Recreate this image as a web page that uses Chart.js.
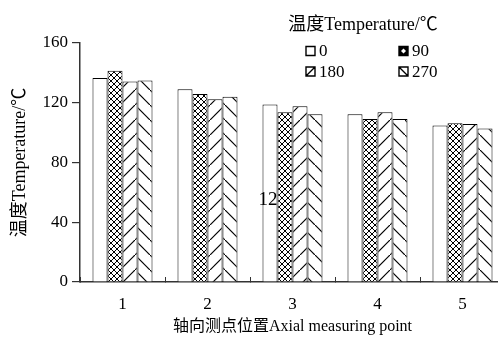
<!DOCTYPE html>
<html>
<head>
<meta charset="utf-8">
<script src="https://cdn.jsdelivr.net/npm/chart.js@4.4.1/dist/chart.umd.min.js"></script>
<style>
  html, body { margin: 0; padding: 0; background: #fff; overflow: hidden; }
  #chart { display: block; }
</style>
</head>
<body>
<canvas id="chart" width="505" height="338"></canvas>
<script>
// axial measuring points
const points = ['1', '2', '3', '4', '5'];
// temperature per series (degrees C)
const temp0 = [136.5, 129, 118.8, 112.3, 104.7];
const temp90 = [141.5, 125.8, 113.7, 109.2, 106.3];
const temp180 = [134.2, 122.4, 117.7, 113.7, 105.8];
const temp270 = [134.9, 124, 112.3, 109.2, 102.7];
const seriesNames = ['0', '90', '180', '270'];
const yTicks = [0, 40, 80, 120, 160];

const serif = "'Liberation Serif', 'Noto Sans CJK SC', serif";

// hatch patterns for the bars
function makePattern(kind) {
    const c = document.createElement('canvas');
    const s = kind === 'cross' ? 6 : 15;
    c.width = s;
    c.height = s;
    const g = c.getContext('2d');
    g.fillStyle = '#fff';
    g.fillRect(0, 0, s, s);
    g.strokeStyle = '#000';
    g.lineWidth = kind === 'cross' ? 1 : 1.2;
    g.beginPath();
    if (kind === 'cross' || kind === 'up') {
        g.moveTo(-1, s + 1); g.lineTo(s + 1, -1);
    }
    if (kind === 'cross' || kind === 'down') {
        g.moveTo(-1, -1); g.lineTo(s + 1, s + 1);
    }
    g.stroke();
    return g.createPattern(c, 'repeat');
}

const fills = ['#fff', makePattern('cross'), makePattern('up'), makePattern('down')];

// legend drawn in two columns like the original
const legendPlugin = {
    id: 'twoColLegend',
    afterDraw(chart) {
        const ctx = chart.ctx;
        ctx.save();
        ctx.fillStyle = '#000';
        ctx.font = '18px ' + serif;
        ctx.textAlign = 'center';
        ctx.textBaseline = 'middle';
        ctx.fillText('温度Temperature/℃', 363, 25);

        const cols = [306, 399];
        const rows = [51, 71.5];
        ctx.font = '17px ' + serif;
        ctx.textAlign = 'left';
        chart.data.datasets.forEach((ds, i) => {
            const x = cols[i % 2];
            const y = rows[Math.floor(i / 2)];
            const b = 9;
            ctx.fillStyle = '#fff';
            ctx.fillRect(x, y - b / 2, b, b);
            ctx.strokeStyle = '#000';
            ctx.lineWidth = 1.4;
            ctx.beginPath();
            if (i === 1) {
                ctx.fillStyle = '#000';
                ctx.fillRect(x, y - b / 2, b, b);
                ctx.fillStyle = '#fff';
                ctx.moveTo(x + b / 2, y - 2.5);
                ctx.lineTo(x + b / 2 + 2.5, y);
                ctx.lineTo(x + b / 2, y + 2.5);
                ctx.lineTo(x + b / 2 - 2.5, y);
                ctx.closePath();
                ctx.fill();
                ctx.beginPath();
            } else if (i === 2) {
                ctx.moveTo(x, y + b / 2);
                ctx.lineTo(x + b, y - b / 2);
            } else if (i === 3) {
                ctx.moveTo(x, y - b / 2);
                ctx.lineTo(x + b, y + b / 2);
            }
            ctx.rect(x, y - b / 2, b, b);
            ctx.stroke();
            ctx.fillStyle = '#000';
            ctx.fillText(ds.label, x + 13, y + 1);
        });

        // stray label in the source figure
        ctx.font = '19px ' + serif;
        ctx.textAlign = 'center';
        ctx.fillText('12', 268, 200);
        ctx.restore();
    }
};

const data = {
    labels: points,
    datasets: [temp0, temp90, temp180, temp270].map((vals, i) => ({
        label: seriesNames[i],
        data: vals,
        backgroundColor: fills[i],
        borderColor: '#000',
        borderWidth: 1,
        borderSkipped: 'bottom',
        barPercentage: 1,
        categoryPercentage: 0.706
    }))
};

const config = {
    type: 'bar',
    data,
    options: {
        responsive: false,
        animation: false,
        devicePixelRatio: 1,
        layout: { padding: { top: 43, left: 0, right: 0, bottom: 0 } },
        plugins: {
            legend: { display: false },
            tooltip: { enabled: false }
        },
        scales: {
            x: {
                afterFit: (scale) => { scale.height = 56; },
                grid: {
                    offset: true,
                    drawOnChartArea: false,
                    drawTicks: true,
                    tickLength: -5,
                    color: '#333',
                    lineWidth: 1
                },
                border: { display: true, color: '#333', width: 1.5 },
                ticks: {
                    color: '#000',
                    padding: 17,
                    font: { family: serif, size: 17 }
                },
                title: {
                    display: true,
                    text: '轴向测点位置Axial measuring point',
                    color: '#000',
                    font: { family: serif, size: 16 },
                    padding: { top: 0, bottom: 2 }
                }
            },
            y: {
                min: 0,
                max: 160,
                afterFit: (scale) => { scale.width = 80; },
                afterBuildTicks: (scale) => { scale.ticks = yTicks.map(v => ({ value: v })); },
                grid: {
                    drawOnChartArea: false,
                    drawTicks: true,
                    tickLength: 8,
                    color: '#333',
                    lineWidth: 1.2
                },
                border: { display: true, color: '#333', width: 1.5 },
                ticks: {
                    color: '#000',
                    padding: 4,
                    font: { family: serif, size: 17 }
                },
                title: {
                    display: true,
                    text: '温度Temperature/℃',
                    color: '#000',
                    font: { family: serif, size: 18 },
                    padding: { top: 9, bottom: 0 }
                }
            }
        }
    },
    plugins: [legendPlugin]
};

const myChart = new Chart(document.getElementById('chart'), config);
</script>
</body>
</html>
